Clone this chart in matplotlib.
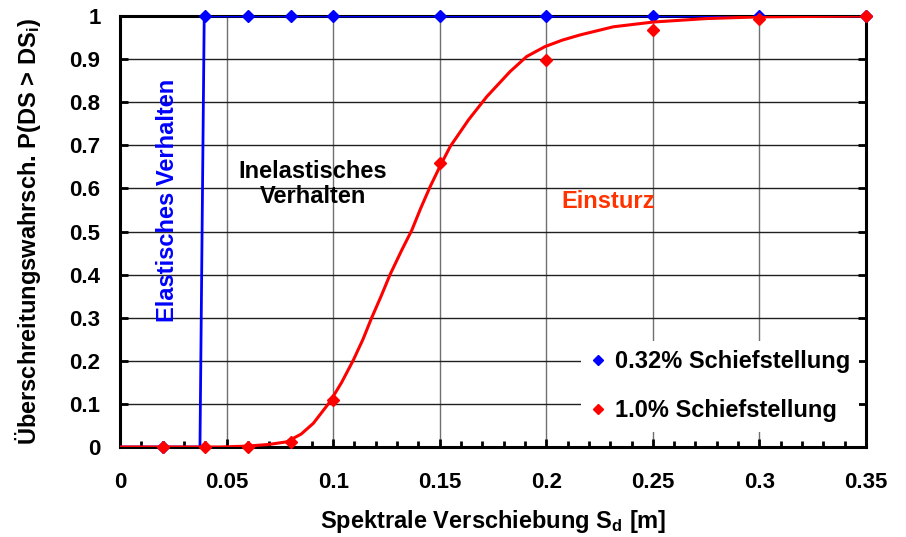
import numpy as np
import matplotlib.pyplot as plt
from matplotlib.lines import Line2D

plt.rcParams['font.family'] = ['Liberation Sans', 'DejaVu Sans']
plt.rcParams['font.weight'] = 'bold'
plt.rcParams['mathtext.fontset'] = 'custom'
plt.rcParams['mathtext.rm'] = 'Liberation Sans:bold'
plt.rcParams['mathtext.default'] = 'rm'

# measured points (diamonds)
sd_pts = [0.02, 0.04, 0.06, 0.08, 0.10, 0.15, 0.20, 0.25, 0.30, 0.35]
p_032_pts = [0, 1, 1, 1, 1, 1, 1, 1, 1, 1]
p_10_pts = [0, 0, 0, 0.011, 0.109, 0.660, 0.898, 0.968, 0.992, 1.0]

# fitted curves
sd_blue = [0.0, 0.0375, 0.0395, 0.35]
p_blue = [0, 0, 1, 1]

sd_red = [0.0, 0.047, 0.0594, 0.0700, 0.0782, 0.0850, 0.0907, 0.0985, 0.1040,
          0.1095, 0.1140, 0.1180, 0.1225, 0.1267, 0.1322, 0.1369, 0.1410,
          0.1455, 0.1500, 0.1549, 0.1635, 0.1721, 0.1830, 0.1908, 0.1994,
          0.2075, 0.2158, 0.2315, 0.2502, 0.2750, 0.30, 0.35]
p_red = [0.0, 0.0, 0.002, 0.006, 0.012, 0.030, 0.055, 0.105, 0.150,
         0.202, 0.250, 0.299, 0.350, 0.400, 0.457, 0.503, 0.553,
         0.604, 0.650, 0.697, 0.759, 0.813, 0.871, 0.906, 0.929,
         0.944, 0.956, 0.975, 0.986, 0.994, 0.998, 1.0]

x_ticks = [0, 0.05, 0.10, 0.15, 0.20, 0.25, 0.30, 0.35]
x_labels = ['0', '0.05', '0.1', '0.15', '0.2', '0.25', '0.3', '0.35']
y_ticks = [0, 0.1, 0.2, 0.3, 0.4, 0.5, 0.6, 0.7, 0.8, 0.9, 1.0]
y_labels = ['0', '0.1', '0.2', '0.3', '0.4', '0.5', '0.6', '0.7', '0.8',
            '0.9', '1']

fig = plt.figure(figsize=(9.06, 5.37), dpi=100)
ax = fig.add_axes([0.1325, 0.1676, 0.8233, 0.8026])

ax.set_xlim(0, 0.35)
ax.set_ylim(0, 1)
ax.set_xticks(x_ticks, x_labels)
ax.set_xticks(np.arange(0, 0.351, 0.01), minor=True)
ax.set_yticks(y_ticks, y_labels)

for x in x_ticks[1:-1]:
    ax.axvline(x, color='#707070', lw=1.0, zorder=1)
for y in y_ticks[1:-1]:
    ax.axhline(y, color='#202020', lw=1.0, zorder=1)

ax.plot(sd_blue, p_blue, color='#0000ff', lw=2.0, zorder=3)
ax.plot(sd_pts, p_032_pts, 'D', color='#0000ff', ms=6, zorder=4, clip_on=False)
ax.plot(sd_red, p_red, color='#ff0000', lw=2.2, zorder=5)
ax.plot(sd_pts, p_10_pts, 'D', color='#ff0000', ms=6.5, zorder=6, clip_on=False)

for s in ax.spines.values():
    s.set_linewidth(2.2)
    s.set_zorder(2)

ax.tick_params(which='both', direction='in', top=False, right=True,
               width=2, labelsize=16, colors='black')
ax.tick_params(axis='x', which='major', length=6, pad=18)
ax.tick_params(axis='x', which='minor', length=4)
ax.tick_params(axis='y', which='major', length=6, pad=14)

ax.set_xlabel('Spektrale Verschiebung S$_d$ [m]', fontsize=17,
              fontweight='bold', labelpad=11)
ax.set_ylabel('Überschreitungswahrsch. P(DS > DS$_i$)', fontsize=17,
              fontweight='bold', labelpad=19)

ax.text(0.0222, 0.573, 'Elastisches Verhalten', rotation=90, color='#0000ff',
        fontsize=17, fontweight='bold', ha='center', va='center', zorder=7)
ax.text(0.0905, 0.61, 'Inelastisches\nVerhalten', color='black',
        fontsize=17, fontweight='bold', ha='center', va='center',
        linespacing=1.15, zorder=7)
ax.text(0.2290, 0.57, 'Einsturz', color='#ff3300', fontsize=17,
        fontweight='bold', ha='center', va='center', zorder=7)

handles = [Line2D([], [], ls='none', marker='D', color='#0000ff', ms=5),
           Line2D([], [], ls='none', marker='D', color='#ff0000', ms=5)]
leg = ax.legend(handles, ['0.32% Schiefstellung', '1.0% Schiefstellung'],
                loc='lower right', bbox_to_anchor=(0.991, 0.035),
                borderaxespad=0, frameon=True, framealpha=1,
                edgecolor='none', fancybox=False, fontsize=17,
                handlelength=0.6, handletextpad=0.4, labelspacing=1.1,
                borderpad=0.4)
leg.set_zorder(8)

fig.savefig('out.png', dpi=100)
